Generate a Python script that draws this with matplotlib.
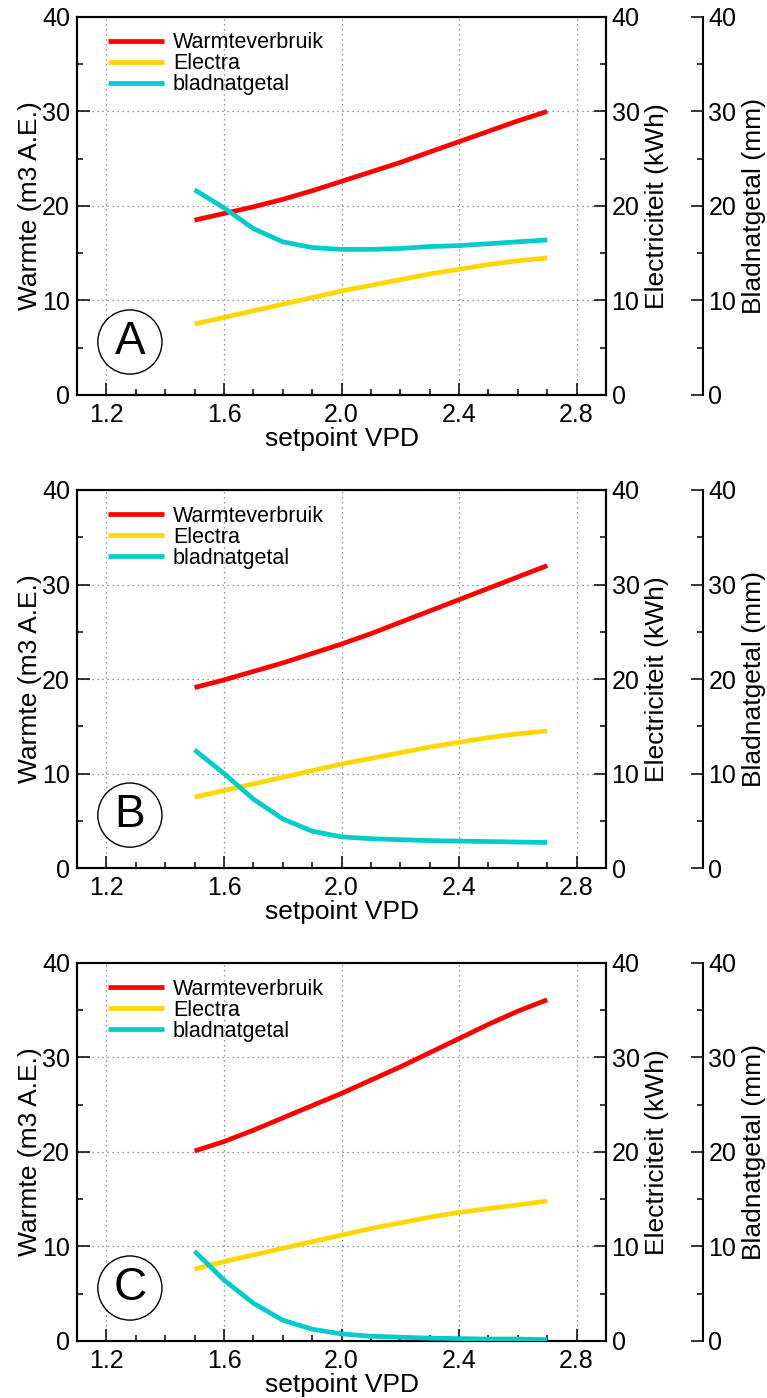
import numpy as np
import matplotlib
matplotlib.use("Agg")
import matplotlib.pyplot as plt

plt.rcParams['font.family'] = ['Liberation Sans', 'DejaVu Sans']

vpd = [1.5, 1.6, 1.7, 1.8, 1.9, 2.0, 2.1, 2.2, 2.3, 2.4, 2.5, 2.6, 2.7]

# warmteverbruik (m3 A.E.)
warmte_A = [18.5, 19.2, 19.9, 20.7, 21.6, 22.6, 23.6, 24.6, 25.7, 26.8, 27.9, 29.0, 30.0]
warmte_B = [19.1, 19.9, 20.8, 21.7, 22.7, 23.7, 24.8, 26.0, 27.2, 28.4, 29.6, 30.8, 32.0]
warmte_C = [20.1, 21.1, 22.3, 23.6, 24.9, 26.2, 27.6, 29.0, 30.5, 32.0, 33.5, 34.9, 36.1]

# electra (kWh)
electra_A = [7.5, 8.2, 8.9, 9.6, 10.3, 11.0, 11.6, 12.2, 12.8, 13.3, 13.8, 14.2, 14.5]
electra_B = [7.5, 8.2, 8.9, 9.6, 10.3, 11.0, 11.6, 12.2, 12.8, 13.3, 13.8, 14.2, 14.5]
electra_C = [7.6, 8.4, 9.1, 9.8, 10.5, 11.2, 11.9, 12.5, 13.1, 13.6, 14.0, 14.4, 14.8]

# bladnatgetal (mm)
blad_A = [21.7, 19.8, 17.6, 16.2, 15.6, 15.4, 15.4, 15.5, 15.7, 15.8, 16.0, 16.2, 16.4]
blad_B = [12.5, 10.0, 7.3, 5.2, 3.9, 3.3, 3.1, 3.0, 2.9, 2.85, 2.8, 2.75, 2.7]
blad_C = [9.5, 6.45, 4.0, 2.2, 1.25, 0.75, 0.5, 0.4, 0.3, 0.25, 0.2, 0.2, 0.15]

panels = ["A", "B", "C"]
warmte = [warmte_A, warmte_B, warmte_C]
electra = [electra_A, electra_B, electra_C]
blad = [blad_A, blad_B, blad_C]

RED = "#ff0000"
YELLOW = "#ffd700"
CYAN = "#00cccc"
TICK_FS = 18
LABEL_FS = 19

fig = plt.figure(figsize=(7.67, 13.98), dpi=100)

bottoms = [0.7175, 0.3791, 0.0408]
for i in range(3):
    ax = fig.add_axes([0.1004, bottoms[i], 0.6897, 0.2704])
    ax2 = ax.twinx()
    ax3 = ax.twinx()
    ax3.spines['right'].set_position(('axes', 1.183))
    for s in ['left', 'top', 'bottom']:
        ax3.spines[s].set_visible(False)

    l1, = ax.plot(vpd, warmte[i], color=RED, lw=3.4, solid_capstyle='butt', label="Warmteverbruik")
    l2, = ax2.plot(vpd, electra[i], color=YELLOW, lw=3.4, solid_capstyle='butt', label="Electra")
    l3, = ax3.plot(vpd, blad[i], color=CYAN, lw=3.4, solid_capstyle='butt', label="bladnatgetal")

    for a in (ax, ax2, ax3):
        a.set_ylim(0, 40)
        a.set_yticks([0, 10, 20, 30, 40])
        a.set_yticks(np.arange(0, 41, 5), minor=True)
    ax.set_xlim(1.1, 2.9)
    ax.set_xticks([1.2, 1.6, 2.0, 2.4, 2.8])
    ax.set_xticklabels(["1.2", "1.6", "2.0", "2.4", "2.8"])
    ax.set_xticks(np.arange(1.2, 2.85, 0.1), minor=True)

    ax.tick_params(axis='both', which='major', direction='in', length=9, width=1.1,
                   labelsize=TICK_FS, top=False, right=False)
    ax.tick_params(axis='both', which='minor', direction='in', length=4, width=1.1,
                   top=False, right=False)
    ax.tick_params(axis='x', pad=6)
    ax.tick_params(axis='y', pad=5)
    for a in (ax2, ax3):
        a.tick_params(axis='y', which='major', direction='in', length=9, width=1.1,
                      labelsize=TICK_FS, pad=4)
        a.tick_params(axis='y', which='minor', direction='in', length=4, width=1.1)
    for s in ax.spines.values():
        s.set_linewidth(1.5)
    for s in ax2.spines.values():
        s.set_linewidth(1.5)
    ax3.spines['right'].set_linewidth(1.5)

    ax.grid(True, which='major', linestyle=(0, (1, 3)), color='#777777', linewidth=0.9)

    ax.set_ylabel("Warmte (m3 A.E.)", fontsize=LABEL_FS, labelpad=0)
    ax2.set_ylabel("Electriciteit (kWh)", fontsize=LABEL_FS, rotation=90, labelpad=4)
    ax3.set_ylabel("Bladnatgetal (mm)", fontsize=LABEL_FS, rotation=90, labelpad=4)
    ax.set_xlabel("setpoint VPD", fontsize=LABEL_FS, labelpad=0)

    ax3.legend(handles=[l1, l2, l3], loc='upper left', bbox_to_anchor=(0.035, 0.993),
               frameon=False, fontsize=15.5, handlelength=2.6, labelspacing=0.0,
               handletextpad=0.4, borderaxespad=0.2)

    ax3.text(1.28, 5.6, panels[i], transform=ax.transData, ha='center', va='center',
             fontsize=33, bbox=dict(boxstyle='circle,pad=0.22', fc='white', ec='black', lw=1.0))

fig.savefig("out.png", dpi=100)
